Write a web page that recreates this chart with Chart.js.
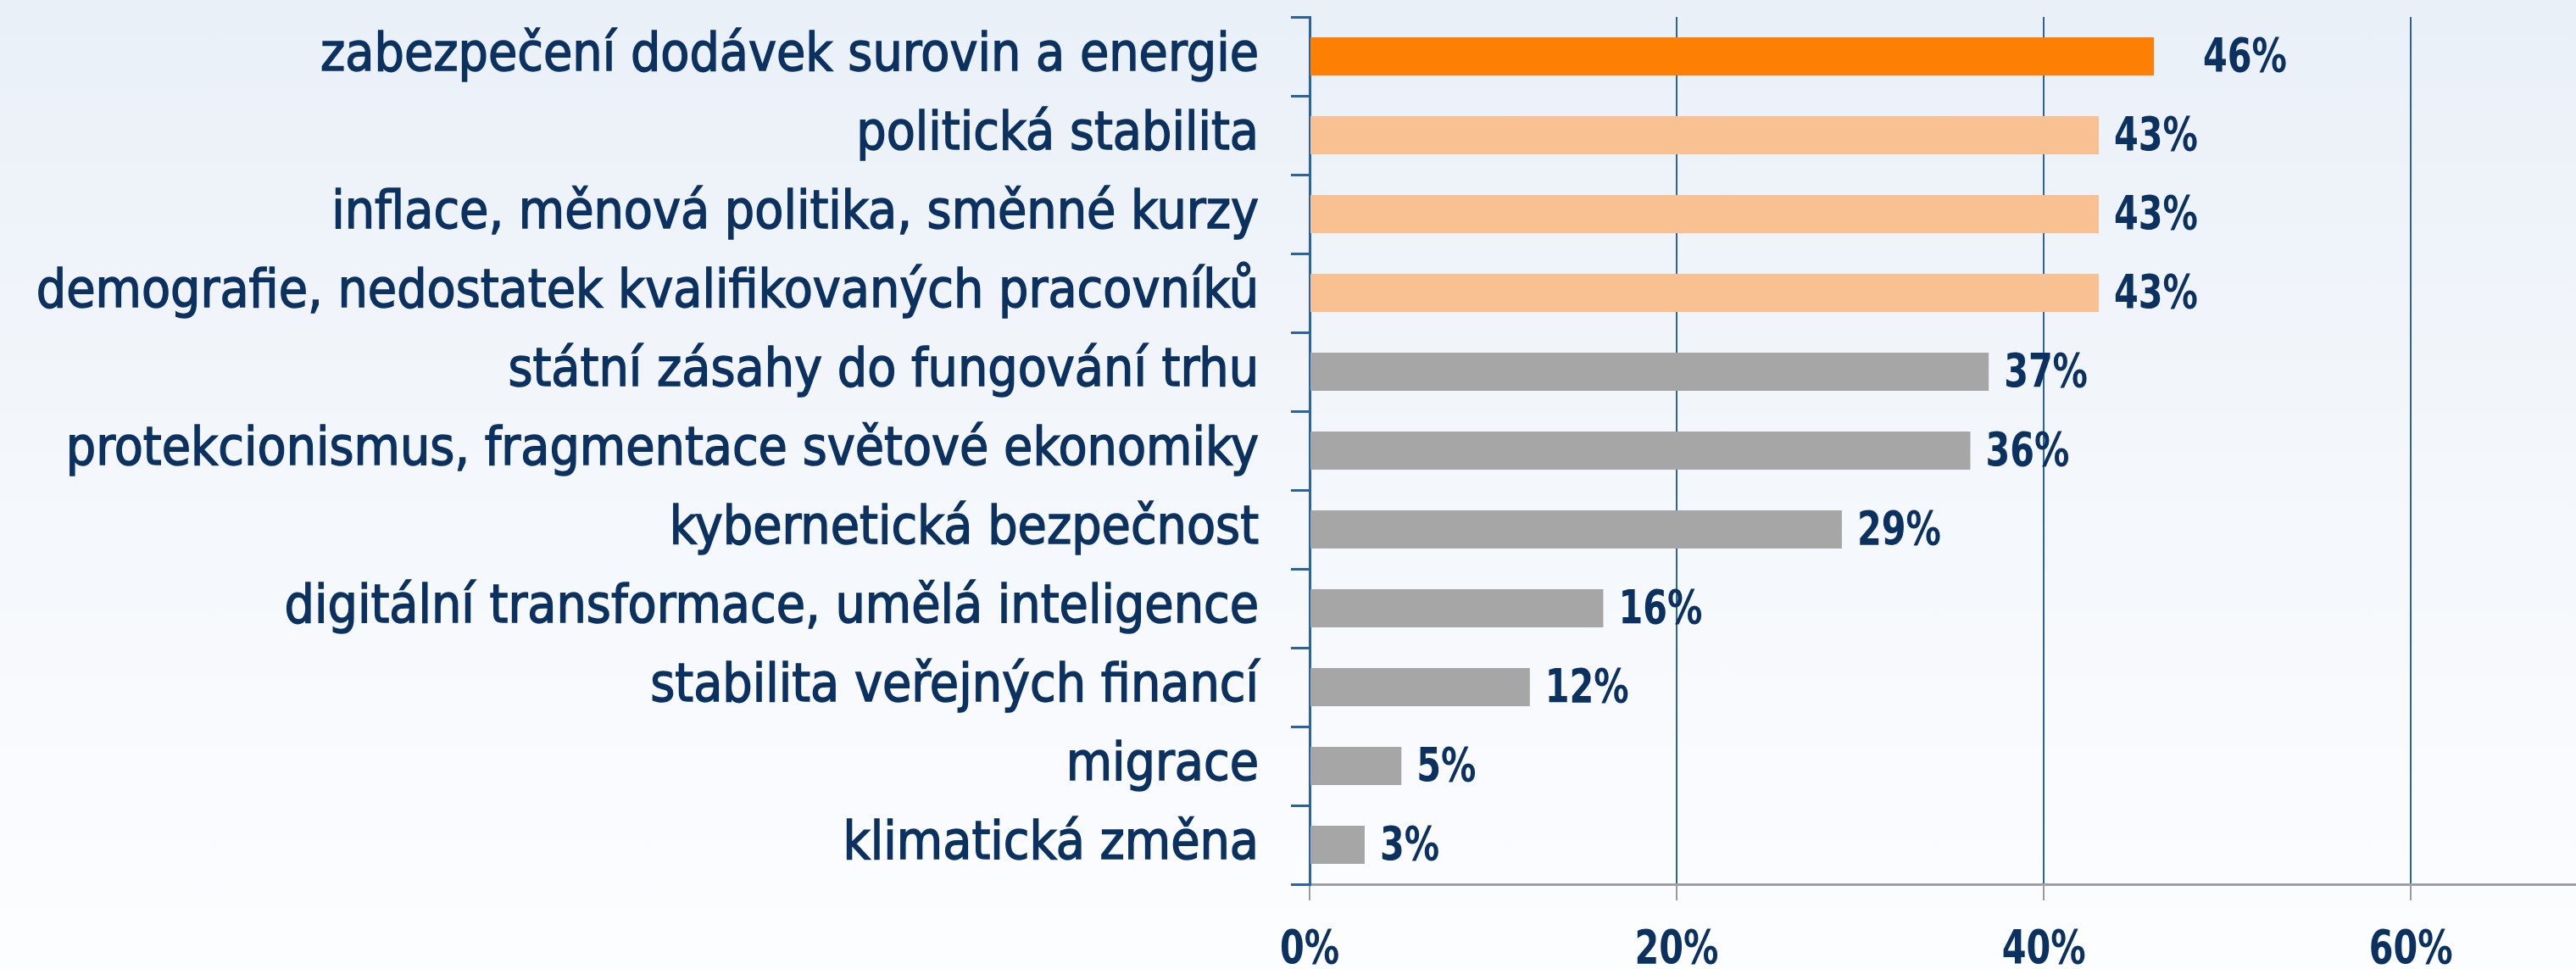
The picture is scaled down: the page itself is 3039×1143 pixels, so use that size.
<!DOCTYPE html>
<html>
<head>
<meta charset="utf-8">
<script src="https://cdn.jsdelivr.net/npm/chart.js@4/dist/chart.umd.min.js"></script>
<style>
  html, body { margin: 0; padding: 0; }
  body {
    width: 3039px; height: 1143px; overflow: hidden;
    background: linear-gradient(to bottom, #eaf0f8 0%, #f5f8fc 55%, #fcfdff 100%);
  }
  canvas { display: block; }
</style>
</head>
<body>
<canvas id="chart" width="3039" height="1143"></canvas>
<script>
// Rizika – podíl odpovědí (%)
const categories = [
  'zabezpečení dodávek surovin a energie',
  'politická stabilita',
  'inflace, měnová politika, směnné kurzy',
  'demografie, nedostatek kvalifikovaných pracovníků',
  'státní zásahy do fungování trhu',
  'protekcionismus, fragmentace světové ekonomiky',
  'kybernetická bezpečnost',
  'digitální transformace, umělá inteligence',
  'stabilita veřejných financí',
  'migrace',
  'klimatická změna',
];
const values = [46, 43, 43, 43, 37, 36, 29, 16, 12, 5, 3];
// skupina: 0 = první místo, 1 = další tři, 2 = ostatní
const groups = [0, 1, 1, 1, 2, 2, 2, 2, 2, 2, 2];
const xTicks = [0, 20, 40, 60];

const NAVY = '#0b3160';
const BLUE = '#2a64a0';
const groupColors = ['#fd7f04', '#f9c192', '#a6a6a6'];
const FONT = '"DejaVu Sans Condensed", "DejaVu Sans", sans-serif';

// úzké tučné číslo (písmo stažené do šířky)
function drawNarrow(ctx, text, x, y, align) {
  const sx = 0.82;
  ctx.save();
  ctx.font = 'bold 56px ' + FONT;
  ctx.fillStyle = NAVY;
  ctx.textBaseline = 'middle';
  ctx.textAlign = align;
  ctx.translate(x, y);
  ctx.scale(sx, 1);
  ctx.fillText(text, 0, 0);
  ctx.restore();
}

// popisky hodnot za sloupci a popisky osy x
const numberLabels = {
  id: 'numberLabels',
  afterDatasetsDraw(chart) {
    const ctx = chart.ctx;
    const meta = chart.getDatasetMeta(0);
    meta.data.forEach((bar, i) => {
      const gap = groups[i] === 0 ? 58 : 18;
      drawNarrow(ctx, values[i] + '%', bar.x + gap, bar.y + 3, 'left');
    });
    const xs = chart.scales.x;
    xTicks.forEach(v => {
      drawNarrow(ctx, v + '%', xs.getPixelForValue(v), 1121, 'center');
    });
  }
};

const ctx = document.getElementById('chart').getContext('2d');
new Chart(ctx, {
  type: 'bar',
  data: {
    labels: categories,
    datasets: [{
      data: values,
      backgroundColor: groups.map(g => groupColors[g]),
      borderWidth: 0,
      barPercentage: 0.485,
      categoryPercentage: 1,
    }],
  },
  options: {
    indexAxis: 'y',
    responsive: false,
    animation: false,
    devicePixelRatio: 1,
    layout: { padding: { top: 20, right: 0, left: 0, bottom: 0 } },
    plugins: { legend: { display: false }, tooltip: { enabled: false } },
    scales: {
      x: {
        min: 0,
        max: 69,
        afterBuildTicks: (scale) => {
          scale.ticks = xTicks.map(v => ({ value: v }));
        },
        afterFit: (scale) => {
          scale.height = 100;
          scale.paddingLeft = 0;
          scale.paddingRight = 0;
        },
        ticks: { display: false },
        grid: {
          color: BLUE,
          lineWidth: 2,
          tickColor: '#9a9a9a',
          tickLength: 19,
        },
        border: { color: '#a0a0a0', width: 3 },
      },
      y: {
        afterFit: (scale) => {
          scale.width = 1545;
          scale.paddingTop = 0;
          scale.paddingBottom = 0;
        },
        ticks: {
          color: NAVY,
          font: { family: FONT, size: 62 },
          padding: 38,
          textStrokeColor: NAVY,
          textStrokeWidth: 1.4,
        },
        grid: {
          drawOnChartArea: false,
          offset: true,
          tickColor: BLUE,
          tickLength: 22,
          lineWidth: 3,
        },
        border: { color: BLUE, width: 3 },
      },
    },
  },
  plugins: [numberLabels],
});
</script>
</body>
</html>
